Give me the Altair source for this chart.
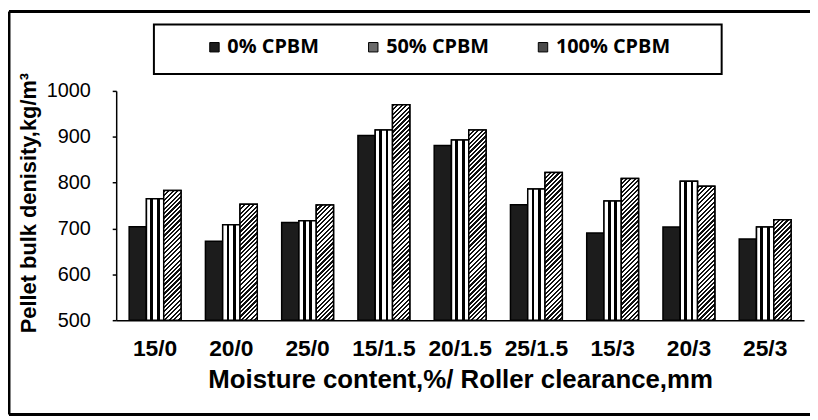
import altair as alt
import pandas as pd

categories = ["15/0", "20/0", "25/0", "15/1.5", "20/1.5", "25/1.5", "15/3", "20/3", "25/3"]
series = ["0% CPBM", "50% CPBM", "100% CPBM"]
cpbm0 = [704, 672, 713, 903, 881, 752, 690, 703, 677]
cpbm50 = [765, 708, 717, 915, 893, 786, 760, 803, 703]
cpbm100 = [783, 753, 751, 970, 915, 822, 809, 792, 719]
y_ticks = [500, 600, 700, 800, 900, 1000]

rows = []
for vals, s in zip([cpbm0, cpbm50, cpbm100], series):
    for c, v in zip(categories, vals):
        rows.append({"cat": c, "series": s, "value": v})
df = pd.DataFrame(rows)

W, H = 693, 231
YMIN, YMAX = 500, 1000
PAD_IN, PAD_OUT = 0.32, 0.17
step = W / (len(categories) - PAD_IN + 2 * PAD_OUT)
bar_w = step * (1 - PAD_IN) / 3

x_enc = alt.X("cat:N", sort=categories, scale=alt.Scale(paddingInner=PAD_IN, paddingOuter=PAD_OUT),
              axis=alt.Axis(title="Moisture content,%/ Roller clearance,mm", labelAngle=0, ticks=False,
                            labelPadding=18, labelFontSize=23, labelFontWeight="bold",
                            titleFontSize=26, titleFontWeight="bold", titleY=60, titleBaseline="middle"))
xo_enc = alt.XOffset("series:N", sort=series, scale=alt.Scale(domain=series, paddingInner=0, paddingOuter=0))
y_enc = alt.Y("value:Q", scale=alt.Scale(domain=[YMIN, YMAX], zero=False, nice=False),
              axis=alt.Axis(values=y_ticks, format="d", title="Pellet bulk denisity,kg/m³", grid=False, tickSize=4,
                            labelPadding=22, labelFontSize=20, titleFontSize=22, titleFontWeight="bold",
                            titleX=-88, titleY=H / 2 - 3, titleAlign="center", titleBaseline="middle", titleAngle=-90))
y2_enc = alt.Y2(datum=YMIN)

base = alt.Chart(df).mark_bar(stroke="black", strokeWidth=1.5).encode(
    x=x_enc, xOffset=xo_enc, y=y_enc, y2=y2_enc,
    color=alt.Color("series:N", sort=series,
                    scale=alt.Scale(domain=series, range=["#1c1c1c", "#6a6a6a", "#4a4a4a"]),
                    legend=alt.Legend(title=None, orient="none", legendX=89, legendY=-54, direction="horizontal",
                                      symbolType="square", symbolSize=90, symbolStrokeColor="black",
                                      symbolStrokeWidth=1, labelFont="Open Sans", labelFontWeight="bold",
                                      labelFontSize=20, labelOffset=3, columnPadding=44, padding=0)),
)

# vertical stripes for 50%
stripes = alt.LinearGradient(gradient="linear", x1=0, y1=0, x2=1, y2=0, stops=[
    alt.GradientStop(offset=0, color="white"), alt.GradientStop(offset=0.22, color="white"),
    alt.GradientStop(offset=0.22, color="black"), alt.GradientStop(offset=0.38, color="black"),
    alt.GradientStop(offset=0.38, color="white"), alt.GradientStop(offset=0.6, color="white"),
    alt.GradientStop(offset=0.6, color="black"), alt.GradientStop(offset=0.76, color="black"),
    alt.GradientStop(offset=0.76, color="white"), alt.GradientStop(offset=1, color="white"),
])
layer50 = alt.Chart(df).transform_filter(alt.datum.series == "50% CPBM").mark_bar(
    fill=stripes, stroke="black", strokeWidth=1.5).encode(x=x_enc, xOffset=xo_enc, y=y_enc, y2=y2_enc)

# diagonal hatching for 100%
def hatch(v, period=4.5, duty=0.5):
    h = (v - YMIN) / (YMAX - YMIN) * H
    r = h / bar_w
    denom = bar_w * (1 + r * r)
    total = bar_w + h
    stops = []
    k = 0
    while k * period < total + period:
        a = k * period / denom
        b = (k * period + duty * period) / denom
        c = (k + 1) * period / denom
        for off, col in [(a, "#111111"), (b, "#111111"), (b, "white"), (c, "white")]:
            stops.append(alt.GradientStop(offset=round(min(off, 1.0), 6), color=col))
        k += 1
        if c >= 1:
            break
    return alt.LinearGradient(gradient="linear", x1=0, y1=0, x2=1, y2=round(r, 5), stops=stops)

hatch_layers = []
for c, v in zip(categories, cpbm100):
    hatch_layers.append(
        alt.Chart(df).transform_filter((alt.datum.series == "100% CPBM") & (alt.datum.cat == c)).mark_bar(
            fill=hatch(v), stroke="black", strokeWidth=1.5).encode(x=x_enc, xOffset=xo_enc, y=y_enc, y2=y2_enc)
    )

frame_df = pd.DataFrame({"k": [0]})
FL, FT, FB, FR = -108, -80, 326, 760
frame_top = alt.Chart(frame_df).mark_rule(stroke="black", strokeWidth=3).encode(
    x=alt.value(FL), x2=alt.value(FR), y=alt.value(FT))
frame_bottom = alt.Chart(frame_df).mark_rule(stroke="black", strokeWidth=3).encode(
    x=alt.value(FL), x2=alt.value(FR), y=alt.value(FB))
frame_left = alt.Chart(frame_df).mark_rule(stroke="black", strokeWidth=3).encode(
    x=alt.value(FL), y=alt.value(FT), y2=alt.value(FB))
legend_box = alt.Chart(frame_df).mark_rect(filled=False, stroke="black", strokeWidth=2).encode(
    x=alt.value(38), x2=alt.value(610), y=alt.value(-67), y2=alt.value(-17))

chart = alt.layer(base, layer50, *hatch_layers, legend_box, frame_top, frame_bottom, frame_left).properties(
    width=W, height=H, autosize=alt.AutoSizeParams(type="none"),
    padding={"left": 109, "top": 82, "right": 6, "bottom": 96},
).configure_view(stroke=None).configure_axis(
    labelFont="Liberation Sans", titleFont="Liberation Sans", labelColor="black", titleColor="black",
    domainColor="black", domainWidth=1.5, tickColor="black", tickWidth=1.5,
)

chart.save("out.html", embed_options={"renderer": "svg", "actions": False})
